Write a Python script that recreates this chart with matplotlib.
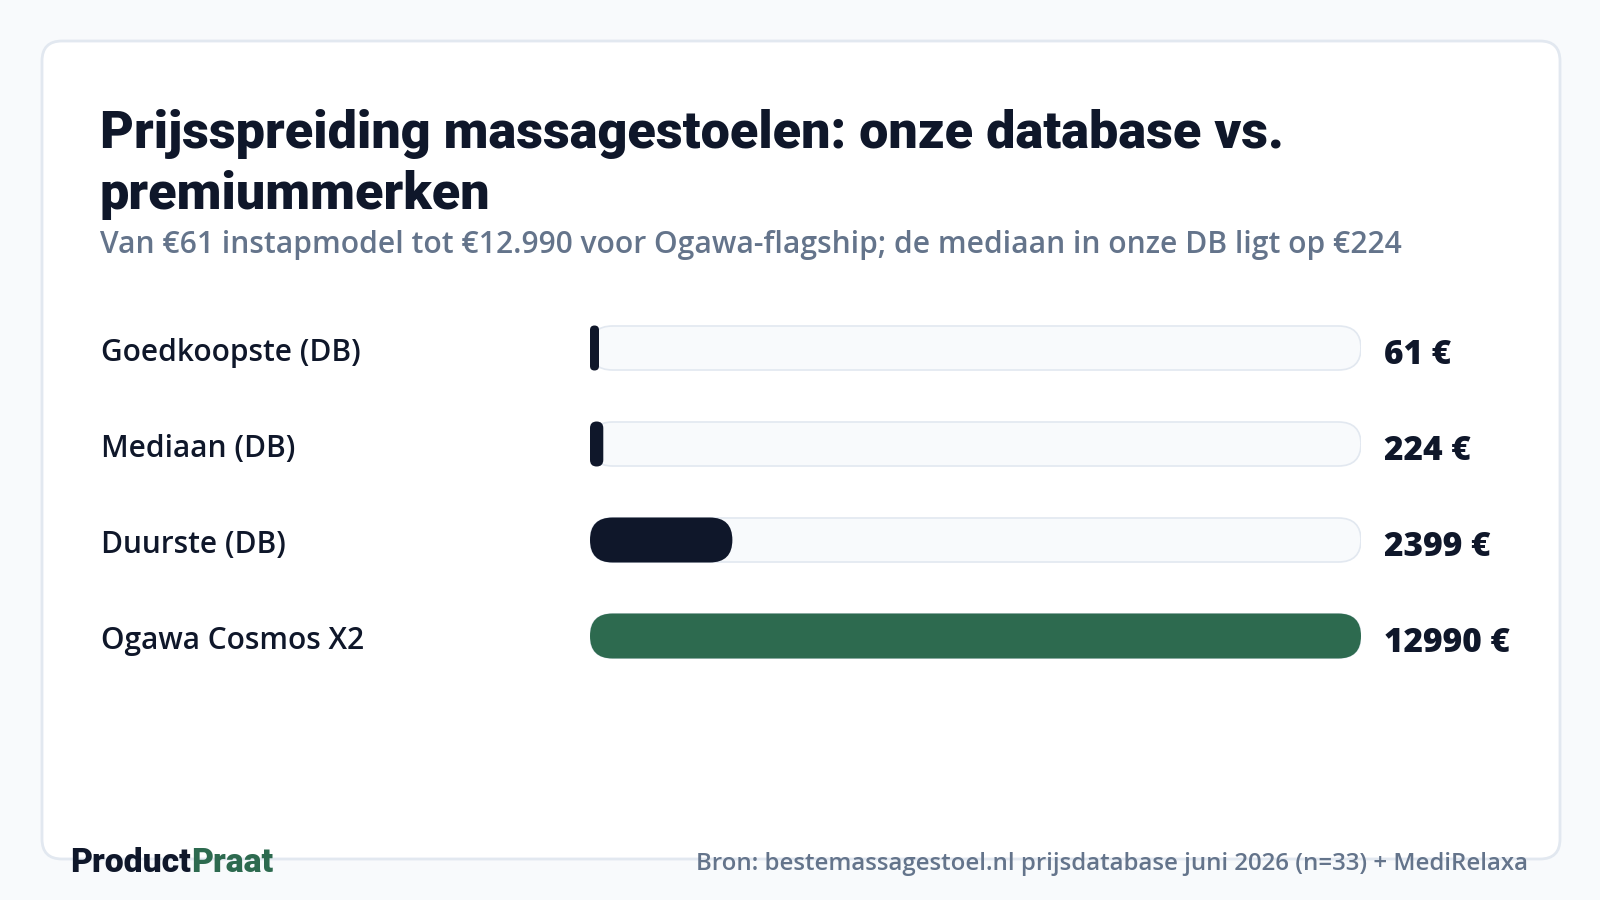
import matplotlib
matplotlib.use("Agg")
import matplotlib.pyplot as plt
from matplotlib.patches import FancyBboxPatch

# data
labels = ["Goedkoopste (DB)", "Mediaan (DB)", "Duurste (DB)", "Ogawa Cosmos X2"]
prices = [61, 224, 2399, 12990]
bar_colors = ["#0f172a", "#0f172a", "#0f172a", "#2d6a4f"]

title_lines = ["Prijsspreiding massagestoelen: onze database vs.", "premiummerken"]
subtitle = "Van €61 instapmodel tot €12.990 voor Ogawa-flagship; de mediaan in onze DB ligt op €224"
source = "Bron: bestemassagestoel.nl prijsdatabase juni 2026 (n=33) + MediRelaxa"

navy = "#0f172a"
green = "#2d6a4f"
grey = "#64748b"
border = "#e2e8f0"

W, H = 1600, 900
fig = plt.figure(figsize=(16, 9), dpi=100)
fig.patch.set_facecolor("#f8fafc")

# overlay axes in pixel units, y pointing down
bg = fig.add_axes([0, 0, 1, 1])
bg.set_xlim(0, W)
bg.set_ylim(H, 0)
bg.axis("off")

card = FancyBboxPatch((42, 41), 1518, 818, boxstyle="round,pad=0,rounding_size=20",
                      facecolor="white", edgecolor=border, linewidth=2)
bg.add_patch(card)

bg.text(100, 148, title_lines[0], fontsize=37.5, fontfamily="Roboto", fontweight=900,
        color=navy, va="baseline")
bg.text(100, 209, title_lines[1], fontsize=37.5, fontfamily="Roboto", fontweight=900,
        color=navy, va="baseline")
bg.text(100, 253, subtitle, fontsize=21.6, fontfamily="Open Sans", fontweight=600,
        color=grey, va="baseline")

# bar axes: one row = 96 px, rows centred at 348 + 96*i
x0, x1 = 590, 1361
top, bottom = 300, 684
ax = fig.add_axes([x0 / W, 1 - bottom / H, (x1 - x0) / W, (bottom - top) / H])
xmax = max(prices)
ax.set_xlim(0, xmax)
ax.set_ylim(len(prices) - 0.5, -0.5)
ax.axis("off")

px_x = (x1 - x0) / xmax   # pixels per euro
px_y = 96.0               # pixels per row
bar_h = 45 / px_y
min_px = 9

def pill(ax, left, width_px, yc, h, **kw):
    r_px = min(22.5, width_px / 2)
    rx = r_px / px_x
    ry = r_px / px_y
    p = FancyBboxPatch((left, yc - h / 2), width_px / px_x, h,
                       boxstyle="round,pad=0,rounding_size=%f" % rx,
                       mutation_aspect=ry / rx, **kw)
    ax.add_patch(p)

for i, (lab, v, c) in enumerate(zip(labels, prices, bar_colors)):
    # track
    pill(ax, 0, x1 - x0, i, 44 / px_y, facecolor="#f8fafc", edgecolor=border, linewidth=1.2)
    w = max(v * px_x, min_px)
    pill(ax, 0, w, i, bar_h, facecolor=c, edgecolor="none")
    yc = 348 + 96 * i
    bg.text(101, yc + 13, lab, fontsize=21.5, fontfamily="Open Sans", fontweight=600,
            color=navy, va="baseline")
    bg.text(1384, yc + 16, "%d €" % v, fontsize=24, fontfamily="Open Sans", fontweight=800,
            color=navy, va="baseline")

t = bg.text(70, 872, "Product", fontsize=24.3, fontfamily="Roboto", fontweight=900,
            color=navy, va="baseline")
bg.annotate("Praat", xy=(1, 0), xycoords=t, fontsize=24.3, fontfamily="Roboto",
            fontweight=900, color=green, va="bottom")
bg.text(1528, 870, source, fontsize=17.25, fontfamily="Open Sans", fontweight=600,
        color=grey, ha="right", va="baseline")

fig.savefig("out.png", dpi=100, facecolor=fig.get_facecolor())
